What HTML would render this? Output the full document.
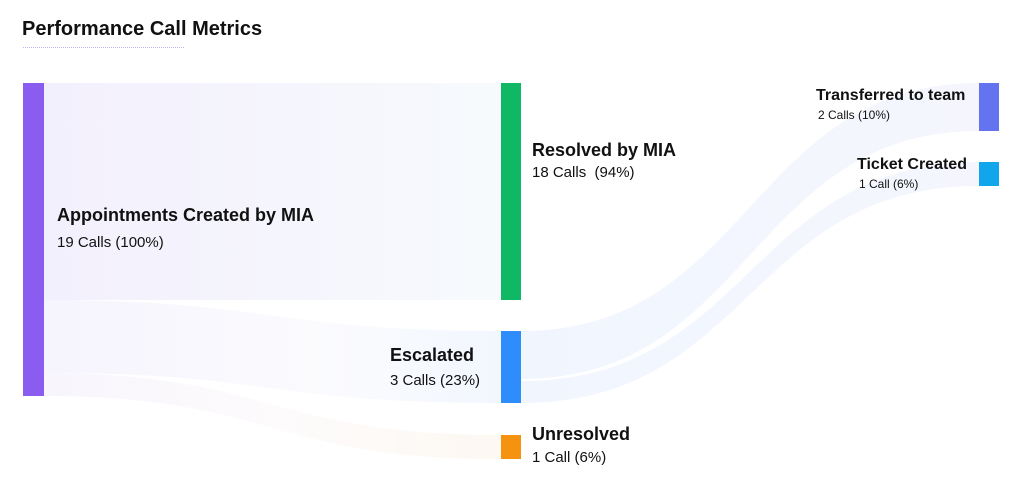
<!DOCTYPE html>
<html><head><style>
body{margin:0;width:1024px;height:503px;background:#fff;overflow:hidden;font-family:"Liberation Sans",sans-serif;position:relative}
.t{position:absolute;color:#111;white-space:nowrap}
.b{font-weight:bold}
</style></head><body>
<div class="t b" style="left:22px;top:18px;font-size:20px">Performance Call Metrics</div>
<div style="position:absolute;left:23px;top:47px;width:161px;border-top:1px dotted #c4b2f5"></div>
<svg width="1024" height="503" style="position:absolute;left:0;top:0">
<defs>
<linearGradient id="g1" x1="0" x2="1"><stop offset="0" stop-color="#f3f0fd"/><stop offset="1" stop-color="#f7fafd"/></linearGradient>
<linearGradient id="g2" x1="0" x2="1"><stop offset="0" stop-color="#f6f4fd"/><stop offset="0.6" stop-color="#fbfbfe"/><stop offset="1" stop-color="#f2f7fe"/></linearGradient>
<linearGradient id="g3" x1="0" x2="1"><stop offset="0" stop-color="#f8f5fd"/><stop offset="0.5" stop-color="#fdfbfc"/><stop offset="1" stop-color="#fdf8f2"/></linearGradient>
<linearGradient id="g4" x1="0" x2="1"><stop offset="0" stop-color="#f1f6fe"/><stop offset="1" stop-color="#f5f6fd"/></linearGradient>
</defs>
<path d="M44 83H501V300H44Z" fill="url(#g1)"/>
<path d="M44 300C270 300 270 331 501 331V403C270 403 270 373 44 373Z" fill="url(#g2)"/>
<path d="M44 373C270 373 270 435 501 435V459C270 459 270 396 44 396Z" fill="url(#g3)"/>
<path d="M521 331C750 331 750 83 979 83V131C750 131 750 379 521 379Z" fill="url(#g4)"/>
<path d="M521 381C750 381 750 162 979 162V186C750 186 750 403 521 403Z" fill="url(#g4)"/>
<rect x="23" y="83" width="21" height="313" fill="#8b5cf0"/>
<rect x="501" y="83" width="20" height="217" fill="#10b866"/>
<rect x="501" y="331" width="20" height="72" fill="#2f8cfb"/>
<rect x="501" y="435" width="20" height="24" fill="#f59210"/>
<rect x="979" y="83" width="20" height="48" fill="#6474f0"/>
<rect x="979" y="162" width="20" height="24" fill="#11a6ec"/>
</svg>
<div class="t b" style="left:57px;top:205px;font-size:18px">Appointments Created by MIA</div>
<div class="t" style="left:57px;top:234px;font-size:15px">19 Calls (100%)</div>
<div class="t b" style="left:532px;top:140px;font-size:18px">Resolved by MIA</div>
<div class="t" style="left:532px;top:164px;font-size:15px">18 Calls&nbsp; (94%)</div>
<div class="t b" style="left:390px;top:345px;font-size:18px">Escalated</div>
<div class="t" style="left:390px;top:372px;font-size:15px">3 Calls (23%)</div>
<div class="t b" style="left:532px;top:424px;font-size:18px">Unresolved</div>
<div class="t" style="left:532px;top:449px;font-size:15px">1 Call (6%)</div>
<div class="t b" style="left:816px;top:87px;font-size:16px">Transferred to team</div>
<div class="t" style="left:818px;top:108px;font-size:12px">2 Calls (10%)</div>
<div class="t b" style="left:857px;top:156px;font-size:16px">Ticket Created</div>
<div class="t" style="left:859px;top:177px;font-size:12px">1 Call (6%)</div>
</body></html>
